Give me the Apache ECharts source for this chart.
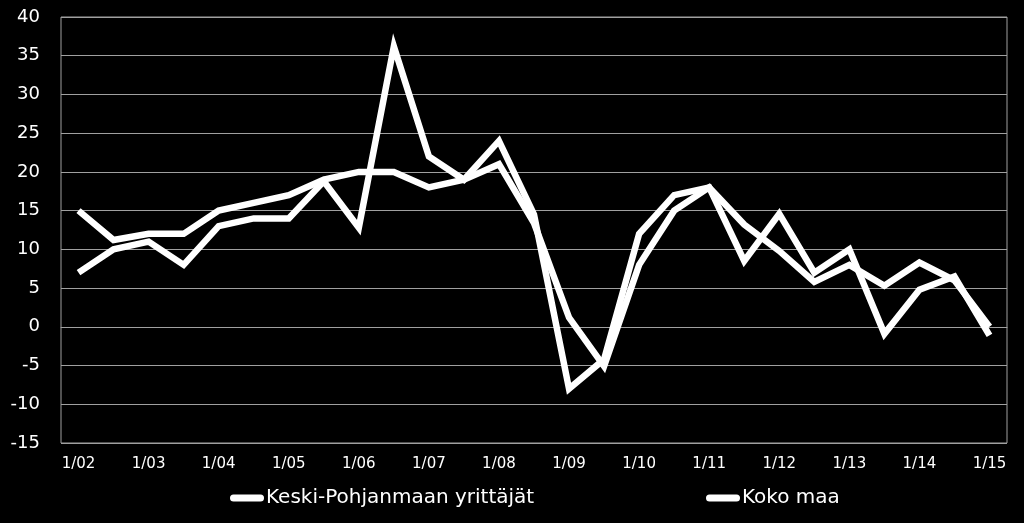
<!DOCTYPE html>
<html>
<head>
<meta charset="utf-8">
<script src="https://cdn.jsdelivr.net/npm/echarts@6/dist/echarts.min.js"></script>
<style>
  html, body { margin: 0; padding: 0; background: #000; }
  #chart { width: 1024px; height: 523px; }
</style>
</head>
<body>
<div id="chart"></div>
<script>
// half-year periods 1/02 ... 1/15
var periods = [
    '1/02', '7/02', '1/03', '7/03', '1/04', '7/04', '1/05', '7/05', '1/06', '7/06',
    '1/07', '7/07', '1/08', '7/08', '1/09', '7/09', '1/10', '7/10', '1/11', '7/11',
    '1/12', '7/12', '1/13', '7/13', '1/14', '7/14', '1/15'
];

var keskiPohjanmaa = [7, 10, 11, 8, 13, 14, 14, 18.8, 12.8, 36.2, 22, 19, 24, 14.5, -8, -4.2, 12, 17, 18, 8.5, 14.6, 7, 10, -0.9, 4.8, 6.5, -1.1];
var kokoMaa = [15, 11.2, 12, 12, 15, 16, 17, 19, 20, 20, 18, 19, 21, 13.4, 1.2, -5.1, 8, 15, 18, 13.2, 9.8, 5.8, 8, 5.3, 8.3, 6, 0];

var yMin = -15, yMax = 40, yStep = 5;

var chart = echarts.init(document.getElementById('chart'));

var font = 'DejaVu Sans, sans-serif';
// pill shaped legend marker
var pill = 'path://M3.5,0 L30.5,0 A3.5,3.5 0 0 1 30.5,7 L3.5,7 A3.5,3.5 0 0 1 3.5,0 Z';

chart.setOption({
    backgroundColor: '#000',
    animation: false,
    textStyle: {
        fontFamily: font
    },

    // plot area with a grey frame
    grid: {
        left: 61,
        right: 17,
        top: 17,
        bottom: 80,
        show: true,
        borderColor: '#a0a0a0',
        borderWidth: 1
    },

    legend: [{
        data: ['Keski-Pohjanmaan yrittäjät'],
        left: 230,
        top: 488,
        padding: 0,
        icon: pill,
        itemWidth: 34,
        itemHeight: 7,
        textStyle: { color: '#fff', fontSize: 20, fontFamily: font, padding: [0, 0, 0, -3] }
    }, {
        data: ['Koko maa'],
        left: 706,
        top: 488,
        padding: 0,
        icon: pill,
        itemWidth: 34,
        itemHeight: 7,
        textStyle: { color: '#fff', fontSize: 20, fontFamily: font, padding: [0, 0, 0, -3] }
    }],

    xAxis: [{
        type: 'category',
        boundaryGap: true,
        data: periods,
        axisLine: {
            lineStyle: { color: '#a0a0a0', width: 1 }
        },
        axisTick: { show: false },
        axisLabel: {
            interval: 1,
            color: '#fff',
            fontSize: 15,
            margin: 14,
            fontFamily: font
        },
        splitLine: { show: false }
    }],

    yAxis: [{
        type: 'value',
        min: yMin,
        max: yMax,
        interval: yStep,
        axisLine: { show: false },
        axisTick: { show: false },
        axisLabel: {
            color: '#fff',
            fontSize: 18,
            margin: 21,
            fontFamily: font
        },
        splitLine: {
            lineStyle: { color: '#a0a0a0', width: 1 }
        }
    }],

    series: [
        {
            name: 'Keski-Pohjanmaan yrittäjät',
            type: 'line',
            data: keskiPohjanmaa,
            showSymbol: false,
            symbol: 'none',
            color: '#fff',
            lineStyle: { color: '#fff', width: 6.5, join: 'miter' }
        },
        {
            name: 'Koko maa',
            type: 'line',
            data: kokoMaa,
            showSymbol: false,
            symbol: 'none',
            color: '#fff',
            lineStyle: { color: '#fff', width: 6.5, join: 'miter' }
        }
    ]
});
</script>
</body>
</html>
